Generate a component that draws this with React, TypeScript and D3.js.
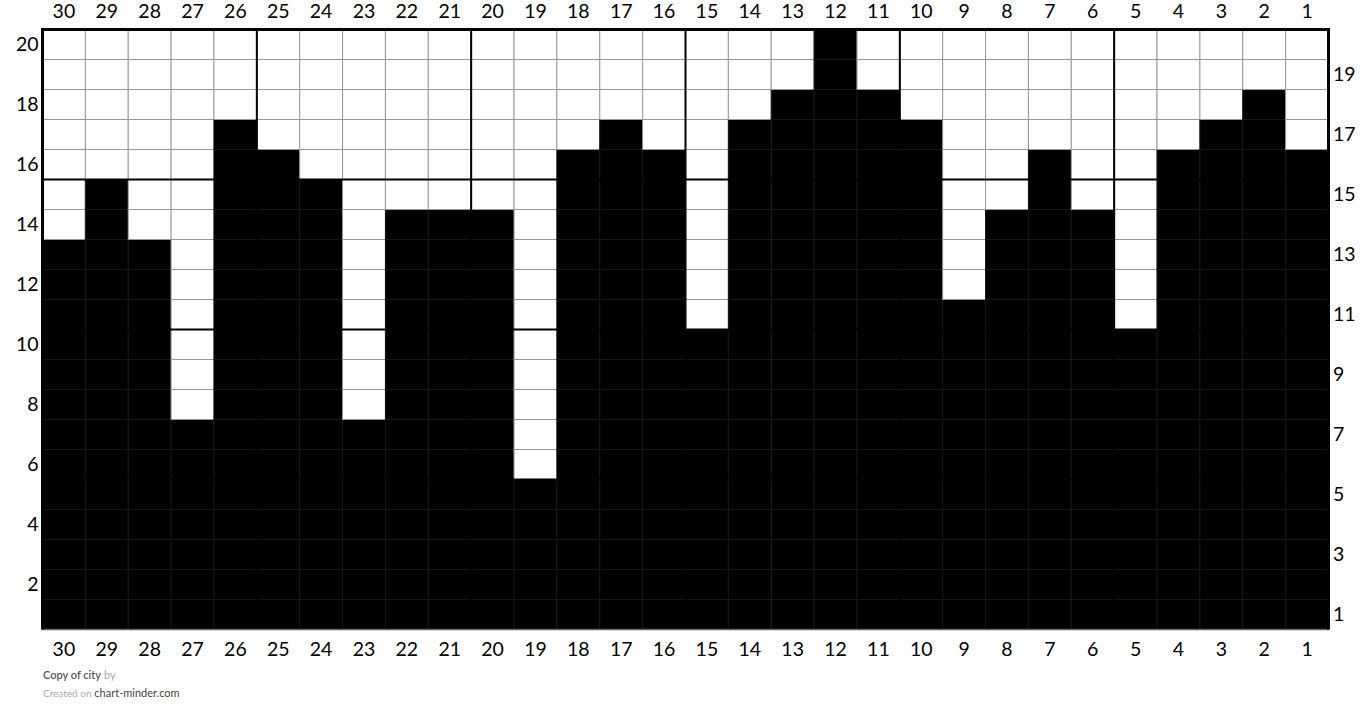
import * as d3 from "d3";

// ── Data ─────────────────────────────────────────────────────────────

// stitch columns, read right-to-left as in the chart
const COLUMNS = [30, 29, 28, 27, 26, 25, 24, 23, 22, 21, 20, 19, 18, 17, 16, 15, 14, 13, 12, 11, 10, 9, 8, 7, 6, 5, 4, 3, 2, 1];
// number of filled (black) rows per column, from the bottom
const FILLED = [13, 15, 13, 7, 17, 16, 15, 7, 14, 14, 14, 5, 16, 17, 16, 10, 17, 18, 20, 18, 17, 11, 14, 16, 14, 10, 16, 17, 18, 16];
const ROW_COUNT = 20;
const LEFT_ROW_LABELS = [2, 4, 6, 8, 10, 12, 14, 16, 18, 20];
const RIGHT_ROW_LABELS = [1, 3, 5, 7, 9, 11, 13, 15, 17, 19];

// ── Layout ───────────────────────────────────────────────────────────

const W = 1371;
const H = 723;
const GRID_L = 42.5;
const GRID_R = 1328.5;
const GRID_T = 29.5;
const GRID_B = 629.5;
const FONT = "Lato, 'Noto Sans', sans-serif";

export default function App() {
  const x = d3.scaleBand<number>().domain(COLUMNS).range([GRID_L, GRID_R]).padding(0);
  const y = d3.scaleLinear().domain([0, ROW_COUNT]).range([GRID_B, GRID_T]);
  const rows = d3.range(1, ROW_COUNT + 1);
  const bw = x.bandwidth();

  // thick guide lines every 5 stitches / rows
  const thickCols = COLUMNS.filter((c) => c % 5 === 0 && c !== COLUMNS[0]);
  const thickRows = rows.filter((r) => r % 5 === 0 && r !== ROW_COUNT);

  return (
    <svg
      width={W}
      height={H}
      style={{ position: "absolute", left: 0, top: 0, background: "#fff" }}
    >
      {/* Cells */}
      {COLUMNS.map((c, i) =>
        rows.map((r) => {
          const filled = r <= FILLED[i];
          return (
            <rect
              key={`${c}-${r}`}
              x={x(c)}
              y={y(r)}
              width={bw}
              height={y(r - 1) - y(r)}
              fill={filled ? "#000" : "#fff"}
              stroke={filled ? "#161616" : "#999"}
              strokeWidth={1}
            />
          );
        }),
      )}

      {/* Heavy guide lines */}
      {thickCols.map((c) => (
        <line
          key={`vc${c}`}
          x1={x(c)}
          x2={x(c)}
          y1={GRID_T}
          y2={GRID_B}
          stroke="#000"
          strokeWidth={2}
        />
      ))}
      {thickRows.map((r) => (
        <line
          key={`hr${r}`}
          x1={GRID_L}
          x2={GRID_R}
          y1={y(r)}
          y2={y(r)}
          stroke="#000"
          strokeWidth={2}
        />
      ))}

      {/* Border */}
      <line x1={GRID_L} x2={GRID_R} y1={GRID_B} y2={GRID_B} stroke="#666" strokeWidth={1.5} />
      <path
        d={`M${GRID_L},${GRID_B} V${GRID_T} H${GRID_R} V${GRID_B}`}
        fill="none"
        stroke="#000"
        strokeWidth={3}
      />

      {/* Column labels */}
      {COLUMNS.map((c) => (
        <g key={`cl${c}`} fontFamily={FONT} fontSize={19.5} fill="#000" textAnchor="middle">
          <text x={(x(c) ?? 0) + bw / 2} y={17.5}>{c}</text>
          <text x={(x(c) ?? 0) + bw / 2} y={656}>{c}</text>
        </g>
      ))}

      {/* Row labels */}
      {LEFT_ROW_LABELS.map((r) => (
        <text
          key={`lr${r}`}
          x={38.5}
          y={(y(r) + y(r - 1)) / 2 + 6.5}
          textAnchor="end"
          fontFamily={FONT}
          fontSize={19.5}
          fill="#000"
        >
          {r}
        </text>
      ))}
      {RIGHT_ROW_LABELS.map((r) => (
        <text
          key={`rr${r}`}
          x={1333}
          y={(y(r) + y(r - 1)) / 2 + 6.5}
          textAnchor="start"
          fontFamily={FONT}
          fontSize={19.5}
          fill="#000"
        >
          {r}
        </text>
      ))}

      {/* Footer */}
      <text x={43} y={679} fontFamily={FONT} fontSize={11} fill="#555">
        <tspan fontWeight={600}>Copy of city</tspan>
        <tspan fill="#aaa"> by</tspan>
      </text>
      <text x={43} y={697} fontFamily={FONT} fontSize={10} fill="#aaa">
        Created on
        <tspan fill="#444" fontSize={11}> chart-minder.com</tspan>
      </text>
    </svg>
  );
}
